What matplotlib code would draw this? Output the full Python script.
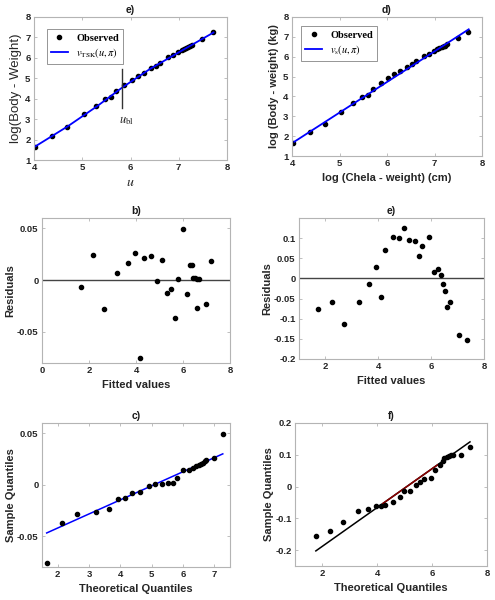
import numpy as np
import matplotlib.pyplot as plt

plt.rcParams['font.family'] = ['Liberation Sans', 'DejaVu Sans']
plt.rcParams['mathtext.fontset'] = 'stix'

# observed data (log chela weight u, log body weight)
u_obs = [4.03, 4.37, 4.69, 5.04, 5.29, 5.47, 5.59, 5.70, 5.87, 6.03, 6.15, 6.27, 6.42,
         6.52, 6.61, 6.77, 6.88, 6.99, 7.06, 7.10, 7.15, 7.19, 7.23, 7.27, 7.49, 7.70]
y_obs = [1.66, 2.19, 2.62, 3.24, 3.65, 3.97, 4.07, 4.37, 4.66, 4.92, 5.12, 5.28, 5.50,
         5.61, 5.77, 6.04, 6.15, 6.28, 6.40, 6.45, 6.48, 6.53, 6.56, 6.64, 6.94, 7.26]

# TSK fit (piecewise around breakpoint u_bl)
tsk_u = [4.03, 4.70, 5.30, 5.83, 6.40, 7.00, 7.72]
tsk_y = [1.67, 2.65, 3.62, 4.55, 5.45, 6.27, 7.24]
u_bl = 5.83

# simple linear fit
lin_u = [4.05, 7.72]
lin_y = [1.72, 7.38]

# residuals vs fitted, TSK model (b)
fit_b = [1.67, 2.17, 2.65, 3.21, 3.64, 3.94, 4.16, 4.35, 4.63, 4.90, 5.10, 5.30, 5.51,
         5.65, 5.78, 5.99, 6.16, 6.29, 6.40, 6.44, 6.53, 6.60, 6.69, 6.60, 6.97, 7.21]
res_b = [-0.0069, 0.0245, -0.0278, 0.0065, 0.0163, 0.0265, -0.0755, 0.0209, 0.0229,
         -0.0007, 0.0193, -0.0127, -0.0082, -0.0366, 0.0007, 0.049, -0.0137, 0.0147,
         0.0147, 0.0016, 0.0016, 0.001, 0.001, -0.0265, -0.0235, 0.0186]

# residuals vs fitted, linear model (e)
fit_e = [1.72, 2.24, 2.72, 3.26, 3.64, 3.92, 4.11, 4.27, 4.54, 4.79, 4.97, 5.17, 5.38,
         5.55, 5.66, 5.93, 6.10, 6.25, 6.37, 6.43, 6.53, 6.61, 6.70, 7.04, 7.37]
res_e = [-0.0747, -0.0573, -0.112, -0.0573, -0.0141, 0.029, -0.0473, 0.0697, 0.1017,
         0.0996, 0.126, 0.0946, 0.092, 0.0548, 0.0797, 0.102, 0.0158, 0.024, 0.0075,
         -0.015, -0.031, -0.072, -0.059, -0.141, -0.154]

# QQ plot, TSK model (c)
qq_c_x = [1.65, 2.15, 2.63, 3.22, 3.63, 3.94, 4.16, 4.36, 4.64, 4.93, 5.10, 5.32, 5.53,
          5.67, 5.80, 6.01, 6.20, 6.31, 6.42, 6.50, 6.56, 6.63, 6.69, 6.74, 6.99, 7.27]
qq_c_y = [-0.0759, -0.0371, -0.028, -0.0267, -0.0238, -0.0143, -0.013, -0.0085, -0.0072,
          -0.001, 0.0003, 0.0007, 0.0013, 0.0013, 0.0062, 0.0143, 0.0143, 0.016, 0.0182,
          0.0192, 0.0202, 0.0212, 0.0228, 0.0238, 0.0264, 0.0492]
qq_c_line_x = [1.65, 7.27]
qq_c_line_y = [-0.0469, 0.030]

# QQ plot, linear model (f)
qq_f_x = [1.76, 2.27, 2.74, 3.28, 3.67, 3.95, 4.13, 4.29, 4.57, 4.82, 4.99, 5.19, 5.41,
          5.56, 5.70, 5.95, 6.12, 6.27, 6.38, 6.45, 6.53, 6.61, 6.69, 6.76, 7.07, 7.38]
qq_f_y = [-0.155, -0.141, -0.112, -0.0755, -0.072, -0.061, -0.060, -0.059, -0.048,
          -0.0325, -0.0147, -0.0147, 0.0052, 0.0147, 0.023, 0.027, 0.051, 0.068, 0.079,
          0.090, 0.094, 0.0965, 0.0997, 0.10, 0.10, 0.125]
qq_f_line_x = [1.76, 7.38]
qq_f_line_y = [-0.2025, 0.1406]
qq_f_mid_x = [4.2, 6.2]

W, H = 495, 600
fig = plt.figure(figsize=(W/100, H/100), dpi=100)

def add_ax(l, r, t, b):
    return fig.add_axes([l/W, (H-b)/H, (r-l)/W, (b-t)/H])

def style(ax, title):
    for s in ax.spines.values():
        s.set_color('#b4b4b4')
        s.set_linewidth(0.8)
    ax.tick_params(direction='in', length=2.5, width=0.6, color='#b4b4b4',
                   labelsize=6.8, labelcolor='#262626', top=True, right=True,
                   labeltop=False, labelright=False, pad=2.5)
    for lab in ax.get_xticklabels() + ax.get_yticklabels():
        lab.set_fontweight('bold')
    ax.set_title(title, fontsize=7.5, fontweight='bold', color='#1a1a1a', pad=3)

lab_kw = dict(fontsize=8, fontweight='bold', color='#262626')
dot_kw = dict(marker='o', ls='none', color='black', ms=3.0)

# e) top left
ax1 = add_ax(34, 227, 17, 160)
ax1.plot(u_obs, y_obs, label='Observed', **dot_kw)
ax1.plot(tsk_u, tsk_y, color='blue', lw=1.3, label=r'$v_{\mathrm{TSK}}(u,\pi)$')
ax1.plot([u_bl, u_bl], [3.53, 5.46], color='#333333', lw=1.0)
ax1.text(u_bl - 0.06, 2.95, r'$u_{\mathrm{bl}}$', fontsize=9, ha='left', va='center', color='#222222')
ax1.set_xlim(4, 8)
ax1.set_ylim(1, 8)
ax1.set_xticks([4, 5, 6, 7, 8])
ax1.set_yticks(range(1, 9))
style(ax1, 'e)')
ax1.set_xlabel(r'$u$', fontsize=10, color='#262626', labelpad=2)
ax1.set_ylabel('log(Body - Weight)', fontsize=9.5, color='#262626', labelpad=2)
leg = ax1.legend(loc='upper left', bbox_to_anchor=(0.04, 0.95), frameon=True,
                 fancybox=False, edgecolor='#666666', handlelength=1.6, borderpad=0.4,
                 labelspacing=0.3, prop={'family': 'Liberation Serif', 'size': 7.5})
leg.get_frame().set_linewidth(0.6)
leg.get_texts()[0].set_fontweight('bold')

# d) top right
ax2 = add_ax(292, 482, 17, 156)
ax2.plot(u_obs, y_obs, label='Observed', **dot_kw)
ax2.plot(lin_u, lin_y, color='blue', lw=1.3, label=r'$v_{\mathrm{s}}(u,\pi)$')
ax2.set_xlim(4, 8)
ax2.set_ylim(1, 8)
ax2.set_xticks([4, 5, 6, 7, 8])
ax2.set_yticks(range(1, 9))
style(ax2, 'd)')
ax2.set_xlabel('log (Chela - weight) (cm)', labelpad=3, **lab_kw)
ax2.set_ylabel('log (Body - weight) (kg)', labelpad=3, **lab_kw)
leg = ax2.legend(loc='upper left', bbox_to_anchor=(0.02, 0.97), frameon=True,
                 fancybox=False, edgecolor='#666666', handlelength=1.6, borderpad=0.4,
                 labelspacing=0.3, prop={'family': 'Liberation Serif', 'size': 7.5})
leg.get_frame().set_linewidth(0.6)
leg.get_texts()[0].set_fontweight('bold')

# b) middle left
ax3 = add_ax(42, 230, 218, 363)
ax3.axhline(0, color='#444444', lw=1.0)
ax3.plot(fit_b, res_b, **dot_kw)
ax3.set_xlim(0, 8)
ax3.set_ylim(-0.08, 0.06)
ax3.set_xticks([0, 2, 4, 6, 8])
ax3.set_yticks([-0.05, 0, 0.05])
ax3.set_yticklabels(['-0.05', '0', '0.05'])
style(ax3, 'b)')
ax3.set_xlabel('Fitted values', labelpad=3, **lab_kw)
ax3.set_ylabel('Residuals', labelpad=1, **lab_kw)

# e) middle right
ax4 = add_ax(299, 484, 218, 359)
ax4.axhline(0, color='#444444', lw=1.0)
ax4.plot(fit_e, res_e, **dot_kw)
ax4.set_xlim(1, 8)
ax4.set_ylim(-0.2, 0.15)
ax4.set_xticks([2, 4, 6, 8])
ax4.set_yticks([-0.2, -0.15, -0.1, -0.05, 0, 0.05, 0.1])
ax4.set_yticklabels(['-0.2', '-0.15', '-0.1', '-0.05', '0', '0.05', '0.1'])
style(ax4, 'e)')
ax4.set_xlabel('Fitted values', labelpad=3, **lab_kw)
ax4.set_ylabel('Residuals', labelpad=1, **lab_kw)

# c) bottom left
ax5 = add_ax(42, 230, 423, 567)
ax5.plot(qq_c_line_x, qq_c_line_y, color='blue', lw=1.1)
ax5.plot(qq_c_x, qq_c_y, **dot_kw)
ax5.set_xlim(1.5, 7.5)
ax5.set_ylim(-0.08, 0.06)
ax5.set_xticks([2, 3, 4, 5, 6, 7])
ax5.set_yticks([-0.05, 0, 0.05])
ax5.set_yticklabels(['-0.05', '0', '0.05'])
style(ax5, 'c)')
ax5.set_xlabel('Theoretical Quantiles', labelpad=3, **lab_kw)
ax5.set_ylabel('Sample Quantiles', labelpad=1, **lab_kw)

# f) bottom right
ax6 = add_ax(295, 487, 423, 566)
ax6.plot(qq_f_line_x, qq_f_line_y, color='black', lw=1.1)
mid_y = np.interp(qq_f_mid_x, qq_f_line_x, qq_f_line_y)
ax6.plot(qq_f_mid_x, mid_y, color='#8b0000', lw=1.1)
ax6.plot(qq_f_x, qq_f_y, **dot_kw)
ax6.set_xlim(1, 8)
ax6.set_ylim(-0.25, 0.2)
ax6.set_xticks([2, 4, 6, 8])
ax6.set_yticks([-0.2, -0.1, 0, 0.1, 0.2])
ax6.set_yticklabels(['-0.2', '-0.1', '0', '0.1', '0.2'])
style(ax6, 'f)')
ax6.set_xlabel('Theoretical Quantiles', labelpad=3, **lab_kw)
ax6.set_ylabel('Sample Quantiles', labelpad=1, **lab_kw)

fig.savefig('out.png', dpi=100)
